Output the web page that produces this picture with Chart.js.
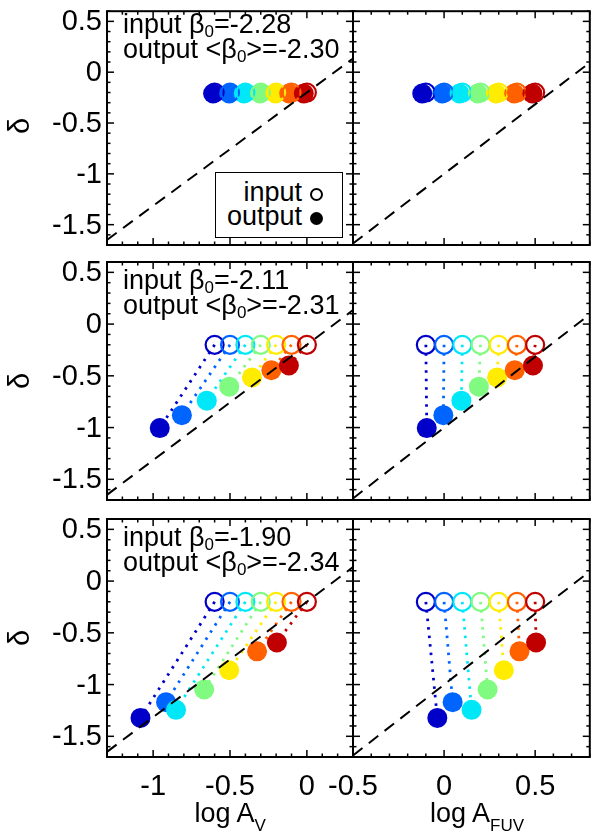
<!DOCTYPE html>
<html>
<head>
<meta charset="utf-8">
<script src="https://cdn.jsdelivr.net/npm/chart.js@4.4.1/dist/chart.umd.min.js"></script>
<style>
  body { margin: 0; background: #fff; }
  #wrap { position: relative; width: 601px; height: 835px; overflow: hidden; font-family: "Liberation Sans", Arial, sans-serif; color: #000; }
  #wrap canvas { position: absolute; left: 0; top: 0; }
  .t { position: absolute; white-space: nowrap; font-size: 27px; line-height: 27px; }
  .sb { font-size: 17px; position: relative; top: 4px; line-height: 0; }
  .sbx { font-size: 17px; position: relative; top: 9px; line-height: 0; }
  .delta { position: absolute; font-size: 29px; line-height: 29px; transform: translate(-50%, -50%) rotate(-90deg); }
  #legend { position: absolute; left: 215px; top: 172px; width: 126px; height: 64px; border: 1px solid #000; background: #fff; }
  .dot { position: absolute; border-radius: 50%; box-sizing: border-box; }
</style>
</head>
<body>
<div id="wrap"></div>
<script>
// ---------- data ----------
const xRangeAV  = [-1.3, 0.3];
const xRangeFUV = [-0.5, 0.8];
const yRange    = [-1.7, 0.6];
const xTicksAV  = [-1, -0.5, 0];
const xTicksFUV = [-0.5, 0, 0.5];
const yTicks    = [0.5, 0, -0.5, -1, -1.5];

const pointColors = ['#0000c8', '#0064ff', '#00e8f8', '#80fa80', '#ffec00', '#ff6000', '#c00000'];

// input models (open circles)
const inputAV    = [-0.6, -0.5, -0.4, -0.3, -0.2, -0.1, 0.0];
const inputAFUV  = [-0.1, 0.0, 0.1, 0.2, 0.3, 0.4, 0.5];
const inputDelta = [-0.2, -0.2, -0.2, -0.2, -0.2, -0.2, -0.2];

// fitted output (filled circles), one row per input beta
const outAV1    = [-0.61, -0.505, -0.41, -0.305, -0.205, -0.115, -0.02];
const outAFUV1  = [-0.12, -0.01, 0.085, 0.185, 0.285, 0.385, 0.485];
const outDelta1 = [-0.21, -0.21, -0.21, -0.21, -0.21, -0.21, -0.21];

const outAV2    = [-0.957, -0.813, -0.651, -0.505, -0.357, -0.231, -0.117];
const outAFUV2  = [-0.095, -0.004, 0.095, 0.191, 0.291, 0.388, 0.488];
const outDelta2 = [-1.005, -0.88, -0.74, -0.605, -0.515, -0.445, -0.40];

const outAV3    = [-1.082, -0.916, -0.851, -0.668, -0.505, -0.324, -0.195];
const outAFUV3  = [-0.037, 0.047, 0.151, 0.239, 0.328, 0.414, 0.505];
const outDelta3 = [-1.322, -1.17, -1.244, -1.048, -0.862, -0.679, -0.594];

const betaInput  = ['-2.28', '-2.11', '-1.90'];
const betaOutput = ['-2.30', '-2.31', '-2.34'];

// dashed reference line end points
const dashAVx  = [-1.3, 0.3];
const dashAVy  = [-1.65, 0.135];
const dashFUVx = [-0.5, 0.8];
const dashFUVy = [-1.685, 0.095];

// ---------- layout ----------
const W = 601, H = 835;
const cols = [[107, 353], [353, 600]];
const rows = [[6, 245], [262, 500], [519, 757]];

const wrap = document.getElementById('wrap');
const pts = (xs, ys) => xs.map((x, i) => ({ x, y: ys[i] }));

// frame + inward ticks + tick labels
const frameTicks = {
  id: 'frameTicks',
  afterDraw(chart, args, opts) {
    const { ctx, chartArea: a, scales: { x, y } } = chart;
    ctx.save();
    ctx.strokeStyle = '#000';
    const seg = (x1, y1, x2, y2) => { ctx.beginPath(); ctx.moveTo(x1, y1); ctx.lineTo(x2, y2); ctx.stroke(); };
    ctx.lineWidth = 1.5;
    for (let i = Math.ceil(x.min * 10 - 1e-6); i <= Math.floor(x.max * 10 + 1e-6); i++) {
      const px = x.getPixelForValue(i / 10);
      const len = i % 5 === 0 ? 7 : 3.5;
      seg(px, a.bottom, px, a.bottom - len);
      seg(px, a.top, px, a.top + len);
    }
    for (let i = Math.ceil(y.min * 10 - 1e-6); i <= Math.floor(y.max * 10 + 1e-6); i++) {
      const py = y.getPixelForValue(i / 10);
      const len = i % 5 === 0 ? 7 : 3.5;
      seg(a.left, py, a.left + len, py);
      seg(a.right, py, a.right - len, py);
    }
    ctx.lineWidth = 2;
    ctx.strokeRect(a.left, a.top, a.right - a.left, a.bottom - a.top);

    ctx.fillStyle = '#000';
    ctx.font = '29px "Liberation Sans", Arial, sans-serif';
    if (opts.yLabels) {
      ctx.textAlign = 'right';
      ctx.textBaseline = 'middle';
      opts.yLabels.forEach(v => ctx.fillText(String(v), a.left - 5, y.getPixelForValue(v) + 1));
    }
    if (opts.xLabels) {
      ctx.textAlign = 'center';
      ctx.textBaseline = 'middle';
      opts.xLabels.forEach(v => ctx.fillText(String(v), x.getPixelForValue(v), a.bottom + 30));
    }
    ctx.restore();
  }
};

function makePanel(r, c, inX, outX, outY) {
  const cv = document.createElement('canvas');
  cv.width = W; cv.height = H;
  wrap.appendChild(cv);

  const datasets = [];
  datasets.push({
    data: pts(c === 0 ? dashAVx : dashFUVx, c === 0 ? dashAVy : dashFUVy),
    showLine: true, borderColor: '#000', borderWidth: 2, borderDash: [12, 8],
    pointRadius: 0, order: 0
  });
  datasets.push({
    data: pts(inX, inputDelta),
    pointRadius: 9, pointBorderWidth: 2.2,
    pointBorderColor: pointColors, pointBackgroundColor: 'rgba(0,0,0,0)', order: 1
  });
  datasets.push({
    data: pts(outX, outY),
    pointRadius: 10, pointBorderWidth: 0,
    pointBackgroundColor: pointColors, pointBorderColor: pointColors, order: 2
  });
  pointColors.forEach((col, i) => {
    datasets.push({
      data: [{ x: inX[i], y: inputDelta[i] }, { x: outX[i], y: outY[i] }],
      showLine: true, borderColor: col, borderWidth: 2.8, borderDash: [2.5, 6],
      pointRadius: 0, order: 3
    });
  });

  new Chart(cv.getContext('2d'), {
    type: 'scatter',
    data: { datasets },
    options: {
      responsive: false,
      animation: false,
      events: [],
      layout: { padding: { left: cols[c][0], right: W - cols[c][1], top: rows[r][0], bottom: H - rows[r][1] } },
      plugins: {
        legend: { display: false },
        tooltip: { enabled: false },
        frameTicks: {
          yLabels: c === 0 ? yTicks : null,
          xLabels: r === 2 ? (c === 0 ? xTicksAV : xTicksFUV) : null
        }
      },
      scales: {
        x: { type: 'linear', display: false, min: c === 0 ? xRangeAV[0] : xRangeFUV[0], max: c === 0 ? xRangeAV[1] : xRangeFUV[1] },
        y: { type: 'linear', display: false, min: yRange[0], max: yRange[1] }
      }
    },
    plugins: [frameTicks]
  });
}

const outAVRows    = [outAV1, outAV2, outAV3];
const outAFUVRows  = [outAFUV1, outAFUV2, outAFUV3];
const outDeltaRows = [outDelta1, outDelta2, outDelta3];

for (let r = 0; r < 3; r++) {
  makePanel(r, 0, inputAV, outAVRows[r], outDeltaRows[r]);
  makePanel(r, 1, inputAFUV, outAFUVRows[r], outDeltaRows[r]);
}

// ---------- text ----------
function addText(html, left, top, cls) {
  const d = document.createElement('div');
  d.className = cls || 't';
  d.innerHTML = html;
  d.style.left = left + 'px';
  d.style.top = top + 'px';
  wrap.appendChild(d);
  return d;
}

rows.forEach(([top, bottom], r) => {
  addText('input &beta;<span class="sb">0</span>=' + betaInput[r], 123, top + 5);
  addText('output &lt;&beta;<span class="sb">0</span>&gt;=' + betaOutput[r], 123, top + 30);
  addText('&delta;', 19, (top + bottom) / 2, 'delta');
});

const xt1 = addText('log A<span class="sbx">V</span>', 0, 800);
xt1.style.left = (230 - xt1.offsetWidth / 2) + 'px';
const xt2 = addText('log A<span class="sbx">FUV</span>', 0, 800);
xt2.style.left = (477 - xt2.offsetWidth / 2) + 'px';

// legend box
const lg = document.createElement('div');
lg.id = 'legend';
lg.innerHTML =
  '<div class="t" style="right:40px;top:6px">input</div>' +
  '<div class="t" style="right:40px;top:30px">output</div>' +
  '<div class="dot" style="left:94px;top:15px;width:13px;height:13px;border:2px solid #000"></div>' +
  '<div class="dot" style="left:94px;top:39px;width:13px;height:13px;background:#000"></div>';
wrap.appendChild(lg);
</script>
</body>
</html>
